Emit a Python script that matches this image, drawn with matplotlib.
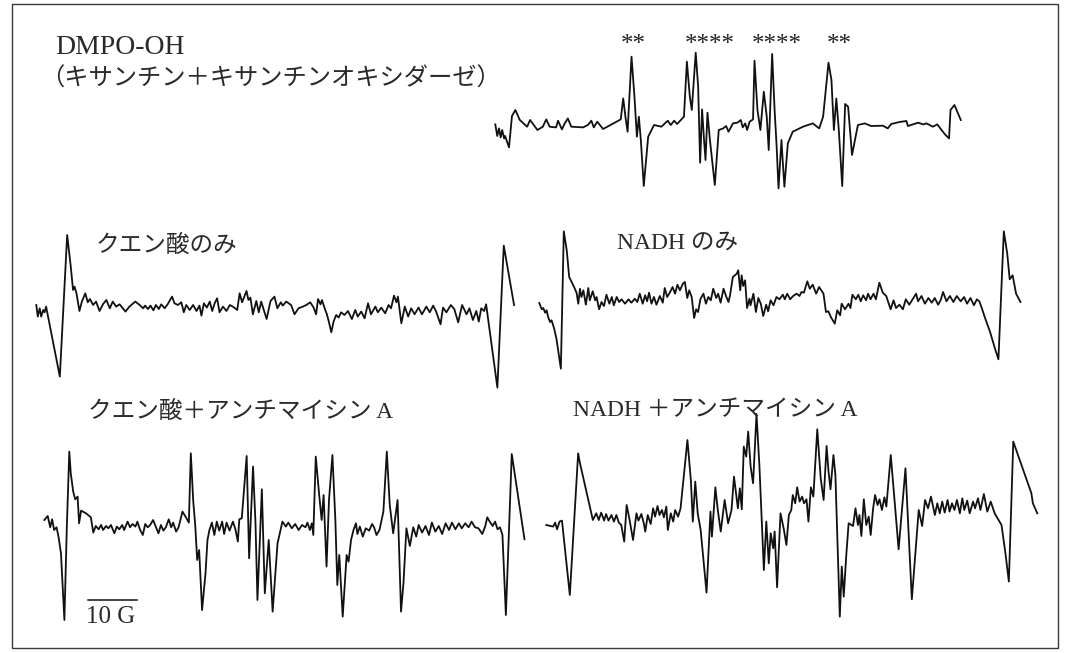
import matplotlib
matplotlib.use("Agg")
import matplotlib.pyplot as plt
from matplotlib.patches import Rectangle

# ESR spectra, field offset in gauss from the left end of each trace,
# signal in arbitrary units (baseline = 0)

# DMPO-OH (xanthine + xanthine oxidase)
dmpo_field = [
    0, 0.4, 0.75, 1.1, 1.4, 1.8, 2.0, 2.8, 3.4, 4.1,
    5.0, 6.5, 7.1, 8.6, 9.7, 10.4, 11.1, 12.4, 12.8, 13.6,
    14.1, 14.8, 15.5, 17.9, 18.9, 19.6, 20.1, 20.8, 22.0, 25.6,
    26.1, 26.6, 27.0, 27.8, 28.4, 28.9, 29.3, 29.7, 30.3, 31.2,
    32.4, 33.9, 35.2, 35.8, 36.5, 37.1, 38.5, 39.1, 39.7, 40.1,
    40.9, 41.4, 41.8, 42.2, 42.6, 42.9, 43.3, 43.8, 44.8, 45.6,
    46.5, 47.1, 47.6, 48.5, 49.4, 50.1, 50.5, 51.0, 51.4, 51.9,
    52.6, 52.9, 53.5, 54.1, 54.8, 55.4, 55.8, 56.5, 57.0, 57.4,
    57.8, 58.4, 58.6, 59.0, 59.7, 60.7, 62.8, 64.8, 66.1, 66.9,
    68.0, 68.6, 69.1, 69.6, 70.1, 70.8, 71.4, 72.0, 72.8, 74.0,
    75.4, 76.7, 79.1, 80.1, 80.8, 82.5, 83.9, 84.2, 86.3, 87.3,
    88.0, 89.3, 90.2, 91.7, 92.6, 92.9, 93.7, 95.0]
dmpo_signal = [
    2.3, -9.3, -1.7, -10.7, -3.3, -11.7, -9.3, -20.7, 10.7, 16.7,
    6.7, 0, 6.7, -3.3, 0, 7.3, 0, -0.7, 6, -2.7,
    2.7, 8.3, 0, -0.7, 1.7, 6, -0.7, 5, -2.3, 7.3,
    28.3, 8.3, -5, 70, 30, -10, 10, -13.3, -59.3, -10,
    1.7, 0, 6, 1.7, 6, 2.7, 10, 65, 30, 16.7,
    74, 40, -36, 17.3, -13.3, -33.3, 14, -13.3, -58.3, -3.3,
    -1.7, 0.7, -5, 3.3, 4, 6.7, -0.7, 3.3, -3.3, 5,
    7.3, 66, 16.7, -3.3, 35, 10, -23.3, 72.7, 16.7, -18.3,
    -61.7, -13.3, -30, -60, -16.7, -5, 0, 3.3, -1.7, 10,
    64, 46.7, -3.3, 28.3, -3.3, -59.3, 22.7, 20, -28.3, 1.7,
    3.3, 0.7, 1, -1.7, 2.7, 4.7, 5.7, 0.7, 4, 2.3,
    3.3, 0, 2.3, -7.3, -11.7, 16.7, 21.7, 6.7]

# citric acid only
citric_field = [
    0, 0.3, 0.7, 1.0, 1.4, 1.7, 2.0, 4.8, 6.3, 7.0,
    7.5, 7.8, 8.2, 8.8, 9.3, 10.0, 10.5, 10.95, 11.6, 12.2,
    12.9, 13.6, 14.3, 15.0, 15.6, 16.3, 17.0, 18.2, 19.0, 20.2,
    21.1, 21.8, 22.2, 22.8, 23.3, 23.9, 24.4, 25.0, 25.5, 26.2,
    26.8, 27.7, 28.2, 28.9, 29.6, 30.1, 30.6, 31.3, 32.0, 32.7,
    33.3, 33.7, 34.2, 34.8, 35.4, 35.9, 36.4, 36.9, 37.4, 38.1,
    38.8, 39.5, 40.1, 41.0, 41.5, 42.0, 42.9, 43.3, 43.7, 44.2,
    44.9, 45.4, 45.9, 47.0, 47.8, 48.6, 49.2, 49.9, 50.3, 51.0,
    52.0, 52.7, 53.5, 54.4, 55.1, 55.9, 56.6, 57.1, 57.5, 58.0,
    58.3, 58.8, 59.3, 59.7, 60.2, 60.7, 61.2, 61.7, 62.2, 62.9,
    63.6, 64.4, 65.1, 65.6, 66.3, 67.0, 67.7, 68.3, 69.2, 69.7,
    70.4, 71.2, 71.9, 72.4, 73.0, 73.5, 73.8, 74.5, 75.2, 75.9,
    76.5, 77.2, 78.0, 78.7, 79.6, 80.3, 81.0, 81.6, 82.5, 83.0,
    83.7, 84.6, 85.3, 86.1, 86.9, 87.8, 88.4, 89.1, 89.8, 90.3,
    90.8, 91.4, 91.8, 94.1, 95.4, 97.5]
citric_signal = [
    3.3, -8.3, 0, -8.3, -1.7, -4, 1.7, -68.3, 73.3, 43.3,
    18.3, 21.7, 15, -2.7, 6.7, 15, 6, 9.3, 3.3, 6.7,
    -2.7, 4, 8.3, 0, 6.7, 1.7, 4, -3.3, 1.7, 6.7,
    3.3, 0, 2.7, -0.7, 2.7, -2, 3.3, -0.7, 4, 0,
    4, 11.7, 5, 3.3, 6, -4, 3.3, -1.7, 3.3, -2.7,
    2.7, -7.3, 5, 0.7, 6.7, -2.7, 5, 10, -4, 1.7,
    -2.7, 3.3, 1.7, -1.7, 15, 6, 17.3, 8.3, 10.7, -6,
    7.3, -4, 6.7, -10.7, 7.3, 11.7, 0, 6, 2.7, 6.7,
    3.3, -6, 0, 1.7, 3.3, 6, 0.7, -6, 9.3, 4,
    8.3, 0.7, -6, -13.3, -24, -12.7, -6.7, -9.3, -4, -6.7,
    -2.7, -10.7, -1.7, -8.3, -3.3, -10, 5, -6, 1.7, -4,
    0.7, -5, 3.3, 0, 12.7, 6, 11.7, -15, 1.7, -8.3,
    0, -6, 0.7, -6, 1.7, -4, 2.7, -3.3, -16, 0.7,
    -4, 3.3, -0.7, -14, 3.3, -6, 0, -11.7, -2.7, -13.3,
    0, -2.7, 4, -79.3, 62.7, 3.3]

# NADH only
nadh_field = [
    0, 0.5, 0.8, 1.2, 1.5, 1.8, 2.2, 2.5, 3.0, 3.5,
    4.4, 5.0, 5.6, 6.1, 6.6, 7.1, 7.6, 7.96, 8.3, 8.6,
    9.0, 9.5, 10.0, 10.3, 10.9, 11.4, 11.7, 12.2, 12.7, 13.2,
    13.7, 14.3, 14.8, 15.2, 15.8, 16.3, 16.8, 17.5, 18.2, 18.8,
    19.5, 20.0, 20.5, 21.1, 21.6, 22.0, 22.4, 22.9, 23.4, 23.9,
    24.6, 25.2, 25.6, 26.1, 26.7, 27.2, 27.7, 28.2, 28.7, 29.3,
    29.7, 30.2, 30.6, 31.1, 31.6, 32.0, 32.4, 32.9, 33.5, 34.0,
    34.5, 35.0, 35.5, 36.1, 36.5, 37.0, 37.6, 38.1, 38.6, 38.9,
    39.5, 40.3, 40.6, 41.0, 41.3, 41.6, 42.0, 42.4, 42.9, 43.1,
    43.7, 44.2, 44.7, 45.2, 45.7, 46.3, 46.7, 47.2, 47.8, 48.4,
    49.0, 49.7, 50.1, 50.6, 51.2, 51.8, 52.5, 53.1, 53.5, 54.0,
    54.7, 55.2, 55.8, 56.5, 57.1, 58.0, 58.5, 59.0, 59.5, 60.3,
    60.8, 61.4, 61.7, 62.4, 63.1, 63.5, 63.9, 64.6, 65.1, 65.6,
    66.1, 66.7, 67.1, 67.6, 68.2, 68.7, 69.4, 70.1, 70.8, 71.2,
    71.7, 72.3, 72.8, 73.5, 74.2, 74.8, 75.5, 76.2, 76.9, 77.3,
    78.0, 78.7, 79.4, 80.1, 80.7, 81.4, 81.9, 82.4, 83.1, 83.8,
    84.5, 85.2, 86.0, 86.7, 87.3, 88.0, 88.7, 89.3, 89.8, 90.3,
    90.9, 92.0, 93.0, 93.7, 94.8, 95.5, 96.0, 96.6, 97.3, 98.2]
nadh_signal = [
    -1, -7.3, -6, -10.7, -8.3, -15, -20, -18.3, -26, -36.7,
    -66.7, 70.7, 51.7, 25, 20, 15, 9.3, -1.7, 13.3, 5,
    11.7, -2.7, 14, 1.7, 10.7, 1.7, 5, -7.3, 0, -4,
    7.3, -1.7, 5, -3.3, 5, 0, 2.7, -1.7, 2.7, -0.7,
    3.3, 0, 8.3, -1.7, 6.7, 0.7, 9.3, -1.7, 5, -2.7,
    6, -0.7, 14, 5, 10, 15, 8.3, 17.3, 11.7, 18.3,
    20, 4, 11.7, 5, -16, -7.3, -10, 3.3, 8.3, -1.7,
    5, 1.7, 13.3, 4, 8.3, -0.7, 13.3, 6, 0, 6,
    25, 28.3, 31.7, 11.7, 26.7, 16, 21.7, -6, 3.3, -3.3,
    8.3, -10, 4, -1.7, -14, -2.7, -9.3, 1.7, -3.3, 5,
    2.7, 7.3, 2.7, 8.3, 2.7, 6, 8.3, 6, 10, 9.3,
    20.7, 13.3, 17.3, 8.3, 15, 8.3, -10, -9.3, -15, -21.7,
    -8.3, -13.3, -1.7, -7.3, -1.7, -6, 7.3, 2.7, 7.3, 0.7,
    6.7, 1.7, 8.3, 2.7, 8.3, 2.7, 19.3, 9.3, 6, 0,
    -7.3, 1.7, -6, -2.7, -7.3, 2.7, -2.7, 2.7, 8.3, 0.7,
    6, -1.7, 4, -0.7, 4, -2.7, 1.7, 10, 0.7, 6,
    0, 6, 0.7, 5, -1.7, 4, -3.3, 2.7, 0.7, -6,
    -15, -30, -46.7, -57.3, 70.7, 48.3, 22.7, 26.7, 8.3, 0]

# citric acid + antimycin A
citric_aa_field = [
    0, 0.7, 1.2, 1.6, 2.0, 2.5, 2.9, 3.4, 4.1, 4.6,
    5.1, 5.4, 5.9, 6.3, 6.8, 7.1, 7.5, 8.5, 9.5, 10.0,
    10.5, 11.1, 11.6, 12.0, 12.6, 13.1, 13.6, 14.3, 14.8, 15.3,
    15.9, 16.3, 17.0, 17.5, 18.0, 18.6, 19.0, 19.5, 20.1, 20.6,
    21.1, 21.6, 22.2, 22.8, 23.3, 23.8, 24.3, 24.8, 25.4, 25.9,
    26.3, 26.9, 27.4, 28.2, 28.9, 29.5, 29.9, 30.4, 30.8, 31.2,
    31.6, 32.2, 32.9, 33.3, 33.7, 34.2, 34.7, 35.2, 35.7, 36.3,
    36.7, 37.2, 37.8, 38.5, 39.0, 39.5, 39.8, 40.3, 41.3, 41.8,
    42.6, 43.1, 43.5, 44.4, 45.0, 45.8, 46.6, 47.6, 48.6, 49.3,
    49.8, 50.5, 51.2, 51.9, 52.6, 53.3, 53.7, 54.2, 54.6, 54.9,
    55.4, 56.1, 56.6, 57.0, 57.6, 58.1, 58.8, 59.4, 59.8, 60.2,
    60.9, 61.7, 62.1, 62.6, 63.1, 63.6, 63.9, 64.4, 65.0, 65.6,
    66.3, 66.9, 67.3, 67.8, 68.4, 69.2, 69.9, 70.5, 71.2, 72.1,
    72.8, 73.3, 73.9, 74.6, 75.3, 75.9, 76.4, 77.1, 77.8, 78.5,
    79.1, 79.8, 80.5, 81.2, 81.9, 82.6, 83.2, 83.9, 84.6, 85.2,
    85.9, 86.6, 87.2, 87.9, 88.6, 89.4, 90.0, 90.4, 90.9, 91.5,
    92.0, 92.5, 93.0, 93.5, 94.2, 95.4, 98.0]
citric_aa_signal = [
    8.3, 12.3, 1, 9, -1.7, 1, -8.3, -25, -91.7, 1.7,
    76.7, 55, 36.7, 29, 31.7, 5, 17.7, 15, 11, -4.3,
    2.3, -1, 3.3, -1.7, 2.3, 0, 3.3, -5, 1.7, -1,
    3.3, -1.7, 6.7, 1, 4.3, 1.7, 6.7, -1, -6.7, 4.3,
    1, 3.3, 8.3, 1, -5, 3.3, -2.3, 1, 9, 1,
    5.7, -3.3, 1, 16.7, 11, 5.7, 75, 26.7, 3.3, -31.7,
    -21.7, -81.7, -45, -11.7, -1.7, 5.7, -6.7, 6.7, -2.3, 6.7,
    -5.7, 5.7, -2.3, 6.7, -1, -13.3, 9, 10, 72.3, -30,
    61.7, 5, -71.7, 39, -65, -11.7, -83.3, -15, 6.7, 1.7,
    5.7, 0, 4.3, -1.7, 3.3, 1, 5.7, -1.7, 5, -6.7,
    71.7, 33.3, 8.3, 33.3, -38.3, 28.3, 73.3, 8.3, -56.7, -26.7,
    -88.3, -26.7, -33.3, -11.7, -1.7, 5, -5.7, 1.7, -8.3, 0,
    -2.3, 4.3, 1, -6.7, -1.7, 16.7, 76.7, 23.3, -5, 28.3,
    -83.3, -55, 0, -17.7, 1, -8.3, 3.3, -4.3, 2.3, -6.7,
    5.7, -3.3, 2.3, -5.7, 5, -1.7, 5.7, -1, 5, 0,
    5, 1, 6.7, 1, 0, -5.7, 2.3, 11, 6.7, 2.3,
    6.7, -1, 1, -6.7, -86.7, 74.3, -11]

# NADH + antimycin A
nadh_aa_field = [
    0, 1.4, 1.8, 2.2, 2.7, 3.2, 4.8, 6.5, 6.8, 9.5,
    10.2, 10.7, 11.2, 11.8, 12.2, 12.7, 13.3, 13.8, 14.3, 14.8,
    15.3, 15.9, 16.4, 17.0, 17.7, 18.4, 18.8, 19.4, 19.9, 20.2,
    20.7, 21.3, 21.8, 22.2, 22.7, 23.1, 23.6, 24.0, 24.5, 24.8,
    25.4, 25.9, 26.3, 26.9, 27.4, 28.8, 29.5, 29.9, 30.4, 30.9,
    31.5, 32.7, 33.5, 33.8, 34.5, 35.0, 35.6, 36.4, 37.1, 37.8,
    38.3, 38.8, 39.1, 39.5, 39.9, 40.3, 40.8, 41.2, 41.7, 42.2,
    42.9, 43.5, 44.4, 44.9, 45.4, 45.8, 46.3, 46.6, 47.1, 47.8,
    48.5, 49.0, 49.5, 50.0, 50.3, 50.8, 51.2, 51.7, 52.2, 52.6,
    53.1, 53.5, 54.0, 54.5, 55.3, 56.0, 56.6, 57.2, 57.6, 58.0,
    58.6, 59.0, 59.9, 60.3, 60.7, 61.2, 61.7, 62.6, 63.1, 63.6,
    63.9, 64.3, 64.8, 65.3, 65.8, 66.2, 66.7, 67.1, 67.6, 68.0,
    68.5, 69.0, 69.4, 70.3, 71.9, 73.3, 74.6, 76.0, 76.7, 77.3,
    77.9, 78.5, 79.3, 79.8, 80.3, 80.8, 81.3, 81.9, 82.3, 82.8,
    83.3, 83.8, 84.4, 84.9, 85.3, 85.9, 86.4, 87.1, 87.5, 88.1,
    88.6, 89.3, 90.0, 90.7, 91.5, 92.9, 93.7, 94.4, 95.3, 99.0,
    99.3, 100.2]
nadh_aa_signal = [
    -6.7, -8.3, -4.3, -11, -3.3, -2.3, -76.7, 65, 56.7, -1.7,
    5, -1.7, 5.7, -2.3, 4.3, -2.3, 3.3, -3.3, 3.3, -4.3,
    -6.7, -23.3, 13.3, -1.7, -21.7, 5, -2.3, 4.3, -5, -13.3,
    3.3, -5.7, 10, 1.7, 12.3, 3.3, 8.3, 1, 11.7, -11.7,
    5, -3.3, 8.3, 1.7, 10, 78.3, 38.3, -3.3, 36.7, 5,
    -11.7, -74.3, 6.7, -18.3, 31, 8.3, -13.3, 18.3, -5, 8.3,
    41.7, 21.7, 10, 30, 9, 71.7, 61.7, 86.7, 51.7, 35,
    104.3, 51.7, -51.7, -3.3, -45, -15, -30, -13.3, -69, 5,
    -11.7, -26.7, 3.3, 8.3, 23.3, 15, 31, 16.7, 21.7, 15,
    19, -3.3, 31, 21.7, 89, 40, 18.3, 72.3, 46.7, 29,
    63.3, 43.3, -98.3, -48.3, -78.3, -38.3, -5, -7.7, 10, -6.7,
    3.3, -17.7, 19, -6.7, 1.7, -16.7, 10, 23.3, 13.3, 19,
    8.3, 21, 11.7, 63.3, -31, 50, -81, 8.3, -7.7, 18.3,
    10, 21.7, 3.3, 15, 5, 16.7, 5.7, 18.3, 6.7, 15,
    8.3, 18.3, 5, 20, 8.3, 17.7, 5, 16.7, 10, 20,
    8.3, 24.3, 6.7, 16.7, 5, -6.7, -35, -63.3, 76.7, 25,
    15, 5]

# hyperfine line markers above the DMPO-OH trace
star_field = [28.1, 43.8, 57.5, 70.3]
star_marks = ["**", "****", "****", "**"]
scale_bar_gauss = 10

W, H = 1071, 653
PX_PER_G = 4.9
fig = plt.figure(figsize=(W / 100, H / 100), dpi=100)
fig.patch.set_facecolor("white")

FONT = ["Liberation Serif", "Noto Sans CJK JP"]
INK = "#111111"


def add_panel(x0, yb):
    # one axes per trace, 4.9 px per gauss and 1 px per signal unit
    g0, g1, a0, a1 = -6.0, 104.0, -110.0, 110.0
    ax = fig.add_axes([(x0 + g0 * PX_PER_G) / W, (H - yb + a0) / H,
                       (g1 - g0) * PX_PER_G / W, (a1 - a0) / H])
    ax.set_xlim(g0, g1)
    ax.set_ylim(a0, a1)
    ax.axis("off")
    return ax


def label(x, y, s, size=17):
    fig.text(x / W, 1 - y / H, s, ha="left", va="center",
             family=FONT, fontsize=size, color="#2a2a2a")


panels = [
    (495.3, 126.7, dmpo_field, dmpo_signal),
    (36.3, 308.3, citric_field, citric_signal),
    (539.3, 302.0, nadh_field, nadh_signal),
    (44.3, 528.3, citric_aa_field, citric_aa_signal),
    (546.3, 518.3, nadh_aa_field, nadh_aa_signal),
]
axes = []
for x0, yb, fld, sig in panels:
    ax = add_panel(x0, yb)
    ax.plot(fld, sig, color=INK, lw=1.3, clip_on=False)
    axes.append(ax)

for g, s in zip(star_field, star_marks):
    axes[0].text(g, 82.0, s, ha="center", va="center",
                 family=["Liberation Serif"], fontsize=18, color="#202020")

# 10 G scale bar under the citric acid + antimycin A trace
axes[3].plot([8.9, 8.9 + scale_bar_gauss], [-71.7, -71.7], color=INK, lw=1.1)
label(86, 617, "10 G", size=18)

label(55, 48, "DMPO-OH", size=20)
label(40, 79, "（キサンチン＋キサンチンオキシダーゼ）", size=17.5)
label(96, 246, "クエン酸のみ")
label(617, 243, "NADH のみ")
label(88, 412, "クエン酸＋アンチマイシン A")
label(573, 410, "NADH ＋アンチマイシン A")

fig.patches.append(Rectangle((12 / W, 1 - 648 / H), (1058 - 12) / W, (648 - 4) / H,
                             transform=fig.transFigure, fill=False,
                             lw=1.0, ec="#3a3a3a"))

fig.savefig("out.png", dpi=100, facecolor="white")
